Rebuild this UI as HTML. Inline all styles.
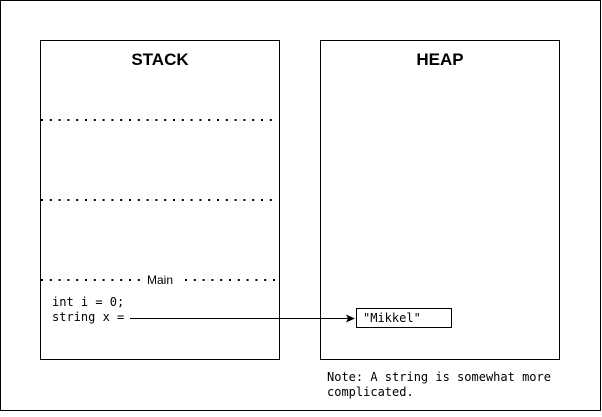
<!DOCTYPE html>
<html><head><style>html,body{margin:0;padding:0;background:#fff}</style></head>
<body>
<svg width="602" height="412" xmlns="http://www.w3.org/2000/svg">
<rect x="0.5" y="0.5" width="600" height="410" fill="#fff" stroke="#000"/>
<rect x="40.5" y="40.5" width="239" height="319" fill="#fff" stroke="#000"/>
<rect x="320.5" y="40.5" width="239" height="319" fill="#fff" stroke="#000"/>
<text x="160" y="65" font-family="Liberation Sans, sans-serif" font-size="17" font-weight="bold" text-anchor="middle">STACK</text>
<text x="440" y="65" font-family="Liberation Sans, sans-serif" font-size="17" font-weight="bold" text-anchor="middle">HEAP</text>
<g stroke="#000" stroke-width="2" stroke-dasharray="2 6.8">
<line x1="41" y1="120" x2="277" y2="120"/>
<line x1="41" y1="200" x2="277" y2="200"/>
<line x1="41" y1="280" x2="142" y2="280"/>
<line x1="185" y1="280" x2="277" y2="280"/>
</g>
<text x="160" y="284" font-family="Liberation Sans, sans-serif" font-size="12" text-anchor="middle">Main</text>
<text x="52" y="306" font-family="DejaVu Sans Mono, monospace" font-size="12">int i = 0;</text>
<text x="52" y="321" font-family="DejaVu Sans Mono, monospace" font-size="12">string x =</text>
<line x1="130" y1="318.5" x2="348" y2="318.5" stroke="#000"/>
<polygon points="355,318.5 346,314.5 348,318.5 346,322.5" fill="#000"/>
<rect x="356.5" y="308.5" width="95" height="19" fill="#fff" stroke="#000"/>
<text x="363" y="322" font-family="DejaVu Sans Mono, monospace" font-size="12">"Mikkel"</text>
<text x="327" y="381" font-family="DejaVu Sans Mono, monospace" font-size="12">Note: A string is somewhat more</text>
<text x="327" y="396" font-family="DejaVu Sans Mono, monospace" font-size="12">complicated.</text>
</svg>
</body></html>
